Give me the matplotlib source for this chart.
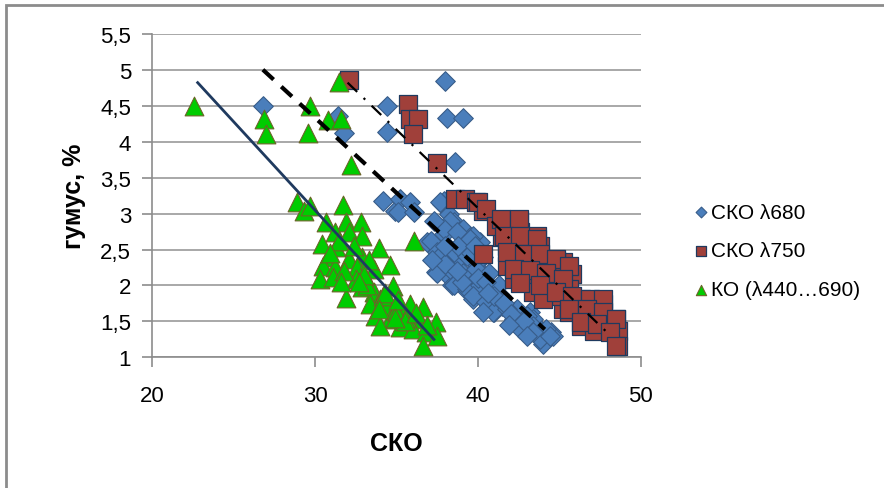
import matplotlib
matplotlib.use("Agg")
import matplotlib.pyplot as plt
from matplotlib.patches import Rectangle
from matplotlib.ticker import FixedLocator, FuncFormatter

plt.rcParams['font.family'] = ['Liberation Sans', 'DejaVu Sans']

# СКО λ680 (blue diamonds)
b_x = [26.8, 31.4, 31.8, 34.4, 34.4, 34.2, 34.9, 38.0, 38.1, 39.1, 38.6,
       35.2, 35.8, 35.1, 36.1, 37.9, 36.9, 37.8, 38.2, 37.1, 38.5, 39.1,
       39.5, 37.9, 37.5, 38.3, 38.9, 39.7, 40.3, 37.4, 38.1, 38.9, 39.5,
       38.4, 39.2, 39.9, 40.7, 40.7, 41.3, 41.5, 42.3, 40.4, 39.7, 41.0,
       43.2, 42.6, 43.6, 44.1, 44.5, 44.0, 40.1, 41.5, 42.4, 43.4, 43.9,
       44.6, 42.8, 39.7,
       37.7, 38.3, 37.9, 38.7, 39.5, 37.7, 38.5, 39.3, 40.1, 37.5, 38.3,
       39.1, 39.9, 40.7, 38.5, 39.3, 40.1, 40.9, 39.7, 40.5, 41.4, 40.9,
       41.8, 42.2, 43.0, 42.6, 43.4, 44.2, 43.8, 44.4, 40.3, 41.3,
       38.8, 39.6, 40.0, 40.5, 41.0, 41.6, 42.0, 42.8, 43.4, 39.0, 38.0,
       38.7, 40.6, 41.9, 43.0, 37.2, 38.0, 37.3, 39.8]
b_y = [4.50, 4.36, 4.12, 4.50, 4.13, 3.18, 3.04, 4.84, 4.33, 4.33, 3.72,
       3.20, 3.16, 3.02, 3.02, 3.18, 2.60, 3.13, 2.99, 2.62, 2.88, 2.78,
       2.67, 2.72, 2.46, 2.51, 2.37, 2.34, 2.40, 2.19, 2.14, 2.13, 2.09,
       2.00, 1.95, 2.00, 2.00, 1.81, 1.88, 1.72, 1.65, 2.14, 1.81, 1.63,
       1.63, 1.49, 1.44, 1.30, 1.35, 1.19, 2.60, 1.77, 1.67, 1.53, 1.35,
       1.30, 1.44, 2.69,
       3.16, 2.90, 2.78, 2.74, 2.65, 2.41, 2.46, 2.41, 2.37, 2.18, 2.23,
       2.18, 2.23, 2.18, 2.00, 1.95, 2.00, 1.95, 1.86, 1.77, 1.86, 1.63,
       1.67, 1.53, 1.58, 1.40, 1.44, 1.40, 1.26, 1.30, 1.63, 2.00,
       2.55, 2.45, 2.10, 2.05, 1.85, 1.75, 1.60, 1.50, 1.35, 2.05, 2.30,
       2.20, 1.90, 1.45, 1.30, 2.35, 2.55, 2.90, 2.55]

# СКО λ750 (red squares)
r_x = [32.1, 35.7, 35.8, 36.3, 36.0, 37.5, 38.6, 39.2, 39.9, 40.3, 40.3,
       40.0, 40.5, 41.5, 42.5, 41.5, 42.6, 41.8, 43.0, 43.8, 41.8, 42.6,
       43.4, 44.2, 45.2, 42.2, 43.0, 43.8, 44.6, 45.4, 43.4, 44.2, 45.0,
       45.2, 43.6, 44.8, 45.8, 44.4, 45.6, 46.3, 46.9, 47.7, 46.7, 47.3,
       48.5, 47.9, 48.6, 48.6, 42.0, 42.8, 43.6, 44.2, 44.8, 44.0, 45.6,
       46.3, 47.1, 41.1,
       41.4, 42.5, 41.6, 42.6, 43.6, 41.8, 42.8, 43.8, 44.8, 45.6, 42.2,
       43.2, 44.2, 45.2, 42.6, 43.8, 44.8, 45.8, 46.9, 47.7, 45.6, 46.7,
       47.7, 48.5, 46.3, 47.3, 48.1, 48.5]
r_y = [4.85, 4.52, 4.31, 4.31, 4.10, 3.70, 3.20, 3.20, 3.16, 3.04, 2.44,
       3.16, 3.06, 2.90, 2.90, 2.67, 2.74, 2.55, 2.60, 2.55, 2.27, 2.37,
       2.27, 2.33, 2.33, 2.09, 2.09, 2.09, 2.12, 2.09, 1.91, 1.91, 1.91,
       1.67, 2.69, 2.34, 2.16, 1.99, 1.95, 1.81, 1.77, 1.74, 1.63, 1.53,
       1.53, 1.44, 1.37, 1.16, 2.55, 2.50, 2.33, 2.18, 1.86, 1.81, 1.63,
       1.44, 1.37, 2.83,
       2.92, 2.92, 2.69, 2.69, 2.65, 2.46, 2.44, 2.44, 2.37, 2.27, 2.23,
       2.21, 2.18, 2.09, 2.04, 2.00, 1.91, 1.86, 1.81, 1.81, 1.67, 1.67,
       1.63, 1.53, 1.49, 1.47, 1.35, 1.16]

# КО (λ440…690) (green triangles)
g_x = [22.6, 26.9, 27.0, 29.7, 29.6, 30.8, 31.6, 31.5, 32.2, 28.9, 29.3,
       29.7, 31.7, 30.7, 31.9, 32.8, 31.2, 32.1, 32.9, 30.4, 31.3, 33.9,
       30.8, 32.1, 32.9, 34.6, 30.5, 31.2, 32.6, 33.6, 30.3, 31.1, 32.5,
       33.1, 34.8, 31.9, 32.9, 33.6, 34.0, 33.4, 34.4, 35.8, 36.6, 33.7,
       34.6, 35.4, 36.4, 37.4, 34.0, 35.2, 36.0, 36.8, 36.6, 37.5, 36.1,
       33.2, 34.2, 35.0, 35.6,
       31.5, 32.4, 33.3, 30.9, 31.8, 33.0, 34.3, 35.1, 35.5, 36.2, 36.9,
       33.9, 34.9, 32.7, 31.6]
g_y = [4.49, 4.31, 4.10, 4.50, 4.12, 4.30, 4.31, 4.83, 3.67, 3.16, 3.04,
       3.11, 3.12, 2.88, 2.88, 2.88, 2.74, 2.74, 2.69, 2.58, 2.53, 2.52,
       2.40, 2.37, 2.40, 2.29, 2.27, 2.26, 2.26, 2.23, 2.09, 2.12, 2.09,
       2.09, 1.99, 1.83, 1.98, 1.91, 1.81, 1.74, 1.72, 1.74, 1.70, 1.57,
       1.53, 1.60, 1.53, 1.49, 1.44, 1.42, 1.40, 1.35, 1.16, 1.30, 2.62,
       2.00, 1.85, 1.65, 1.55,
       2.62, 2.55, 2.35, 2.45, 2.20, 2.15, 1.90, 1.80, 1.50, 1.62, 1.45,
       1.68, 1.55, 2.05, 2.05]

# linear trend lines (end points)
b_fit_x, b_fit_y = [26.8, 44.1], [5.0, 1.39]
r_fit_x, r_fit_y = [32.0, 48.1], [4.82, 1.31]
g_fit_x, g_fit_y = [22.8, 37.3], [4.82, 1.25]

y_ticks = [1, 1.5, 2, 2.5, 3, 3.5, 4, 4.5, 5, 5.5]
x_ticks = [20, 30, 40, 50]

fig = plt.figure(figsize=(8.84, 4.89), dpi=100)
ax = fig.add_axes([0.172, 0.267, 0.553, 0.662])

ax.scatter(b_x, b_y, marker='D', s=10**2, c='#4A7EBB', edgecolors='#385D8A',
           linewidths=0.8, label='СКО λ680', zorder=3)
ax.scatter(r_x, r_y, marker='s', s=13**2, c='#A0403A', edgecolors='#1F3A5F',
           linewidths=0.9, label='СКО λ750', zorder=4)
ax.scatter(g_x, g_y, marker='^', s=13.5**2, c='#00CC00', edgecolors='#6B6428',
           linewidths=0.8, label='КО (λ440…690)', zorder=5)

ax.plot(b_fit_x, b_fit_y, color='black', lw=3, dashes=(3.5, 2.5), zorder=6)
ax.plot(r_fit_x, r_fit_y, color='black', lw=1.6, dashes=(6, 4, 1, 4), zorder=6)
ax.plot(g_fit_x, g_fit_y, color='#1F3A5F', lw=2, zorder=6)

ax.set_xlim(20, 50)
ax.set_ylim(1, 5.5)
ax.xaxis.set_major_locator(FixedLocator(x_ticks))
ax.yaxis.set_major_locator(FixedLocator(y_ticks))
ax.yaxis.set_major_formatter(FuncFormatter(lambda v, p: ('%g' % v).replace('.', ',')))
ax.grid(axis='y', color='#9a9a9a', lw=1.2)
ax.set_axisbelow(True)
for side in ['top', 'right']:
    ax.spines[side].set_visible(False)
for side in ['left', 'bottom']:
    ax.spines[side].set_color('#8c8c8c')
    ax.spines[side].set_linewidth(1.2)
ax.tick_params(axis='both', labelsize=16, color='#8c8c8c', length=7, width=1.2)
ax.tick_params(axis='x', pad=13)
ax.tick_params(axis='y', pad=8)

ax.set_xlabel('СКО', fontsize=18, fontweight='bold', labelpad=18)
ax.set_ylabel('гумус, %', fontsize=18, fontweight='bold', labelpad=10)

ax.legend(loc='center left', bbox_to_anchor=(0.762, 0.485), bbox_transform=fig.transFigure,
          frameon=False, fontsize=15, markerscale=0.55, handletextpad=0.1,
          handlelength=0.8, labelspacing=0.95)

fig.patches.append(Rectangle((6 / 884, -0.1), 1.2, 1.1 - 6 / 489, transform=fig.transFigure,
                             fill=False, edgecolor='#8c8c8c', lw=2))

fig.savefig('out.png', dpi=100)
